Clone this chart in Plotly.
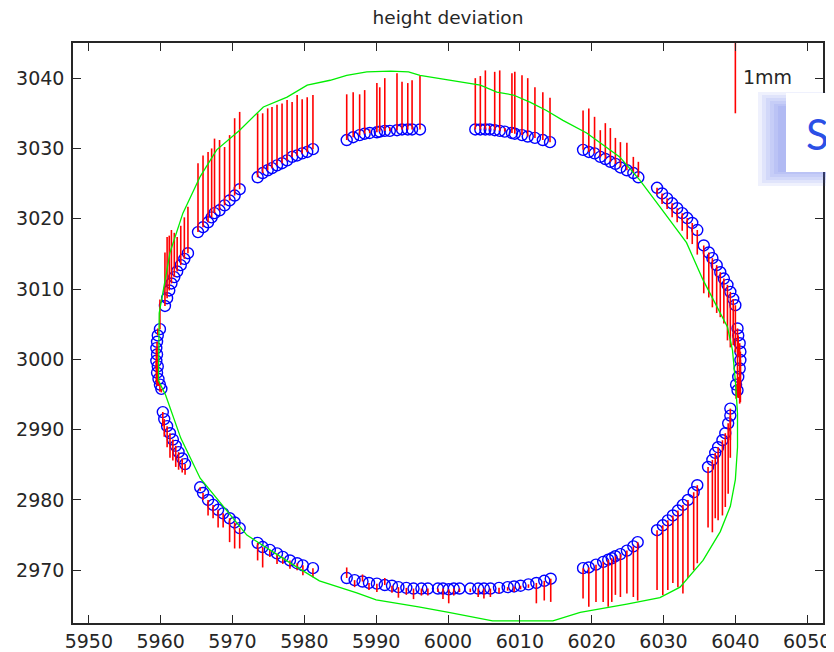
import plotly.graph_objects as go

# ---------------- data ----------------
circle_x = [
    # left, around y=3000
    5959.9, 5959.6, 5959.5, 5959.4, 5959.5, 5959.4, 5959.6, 5959.5, 5959.7, 5959.9, 5960.1,
    # upper-left arc
    5960.6, 5960.9, 5961.2, 5961.5, 5961.9, 5962.3, 5962.8, 5963.3, 5963.8,
    5965.2, 5965.9, 5966.6, 5967.1, 5967.5, 5968.2, 5968.9, 5969.6, 5970.3, 5971.0,
    5973.5, 5974.2, 5974.9, 5975.5, 5976.2, 5976.9, 5977.6, 5978.3, 5979.0, 5979.7, 5980.4, 5981.2,
    5985.9, 5986.8, 5987.7, 5988.4, 5989.1, 5990.1, 5990.5, 5991.2, 5991.9, 5992.9, 5993.6, 5994.4, 5995.0, 5996.1,
    # upper-right arc
    6003.8, 6004.5, 6005.2, 6005.8, 6006.5, 6007.2, 6007.9, 6008.9, 6009.3, 6010.3, 6011.1, 6012.1, 6013.2, 6014.2,
    6018.8, 6019.6, 6020.4, 6021.2, 6021.9, 6022.6, 6023.3, 6024.0, 6024.9, 6025.8, 6026.5,
    6029.1, 6029.8, 6030.5, 6031.2, 6031.9, 6032.6, 6033.3, 6034.0, 6034.7,
    6035.6, 6036.3, 6036.8, 6037.4, 6037.9, 6038.4, 6038.9, 6039.3, 6039.7, 6040.0,
    # right, around y=3000
    6040.3, 6040.4, 6040.6, 6040.7, 6040.7, 6040.6, 6040.4, 6040.1, 6040.3,
    # lower-right arc
    6036.2, 6036.8, 6037.2, 6037.6, 6038.2, 6038.6, 6039.0, 6039.3, 6039.3,
    6029.1, 6029.9, 6030.6, 6031.3, 6032.0, 6032.7, 6033.4, 6034.2, 6034.7,
    6018.8, 6019.6, 6020.6, 6021.6, 6022.3, 6022.8, 6023.3, 6024.0, 6024.9, 6025.8, 6026.4,
    6003.1, 6004.2, 6005.0, 6005.9, 6007.1, 6008.3, 6009.2, 6010.1, 6011.2, 6012.3, 6013.4, 6014.3,
    # bottom middle
    5998.6, 5999.3, 6000.1, 6000.8, 6001.6,
    # lower-left arc
    5985.9, 5987.0, 5988.1, 5989.0, 5990.1, 5991.2, 5992.2, 5993.1, 5994.2, 5995.2, 5996.3, 5997.2,
    5973.5, 5974.2, 5975.2, 5976.2, 5977.0, 5978.0, 5979.0, 5979.8, 5981.2,
    5965.5, 5965.9, 5966.6, 5967.3, 5968.0, 5968.7, 5969.6, 5970.3, 5971.0,
    5960.3, 5960.5, 5960.9, 5961.3, 5961.7, 5962.1, 5962.5, 5963.0, 5963.4,
]

circle_y = [
    3004.3, 3003.4, 3002.5, 3001.6, 3000.7, 2999.8, 2999.0, 2998.1, 2997.2, 2996.4, 2995.8,
    3007.6, 3008.7, 3009.8, 3010.8, 3011.7, 3012.5, 3013.4, 3014.3, 3015.1,
    3018.1, 3018.8, 3019.5, 3020.2, 3020.8, 3021.2, 3021.9, 3022.6, 3023.3, 3024.2,
    3025.9, 3026.5, 3026.9, 3027.2, 3027.6, 3027.9, 3028.3, 3028.8, 3029.0, 3029.3, 3029.5, 3029.9,
    3031.2, 3031.6, 3031.9, 3032.1, 3032.2, 3032.3, 3032.4, 3032.5, 3032.5, 3032.6, 3032.7, 3032.7, 3032.7, 3032.7,
    3032.7, 3032.7, 3032.7, 3032.7, 3032.6, 3032.5, 3032.4, 3032.2, 3032.1, 3031.9, 3031.7, 3031.5, 3031.2, 3030.9,
    3029.8, 3029.5, 3029.3, 3028.8, 3028.5, 3028.1, 3027.8, 3027.3, 3026.9, 3026.5, 3025.9,
    3024.4, 3023.6, 3022.9, 3022.2, 3021.5, 3020.8, 3020.1, 3019.4, 3018.4,
    3016.2, 3015.2, 3014.4, 3013.4, 3012.4, 3011.5, 3010.6, 3009.6, 3008.6, 3007.7,
    3004.4, 3003.4, 3002.3, 3001.1, 2999.9, 2998.7, 2997.5, 2996.4, 2995.6,
    2984.7, 2985.7, 2986.7, 2987.5, 2988.5, 2989.5, 2990.9, 2992.0, 2993.0,
    2975.7, 2976.4, 2977.1, 2977.8, 2978.5, 2979.3, 2980.0, 2981.1, 2982.1,
    2970.3, 2970.4, 2970.8, 2971.2, 2971.5, 2971.7, 2972.0, 2972.3, 2972.8, 2973.4, 2974.0,
    2967.4, 2967.4, 2967.4, 2967.4, 2967.5, 2967.6, 2967.7, 2967.8, 2968.0, 2968.2, 2968.5, 2968.8,
    2967.4, 2967.4, 2967.3, 2967.4, 2967.4,
    2968.9, 2968.6, 2968.4, 2968.2, 2968.1, 2967.9, 2967.8, 2967.6, 2967.5, 2967.4, 2967.4, 2967.4,
    2973.9, 2973.3, 2972.9, 2972.4, 2971.9, 2971.4, 2971.0, 2970.7, 2970.3,
    2981.8, 2981.0, 2980.0, 2979.3, 2978.6, 2978.1, 2977.4, 2976.8, 2976.0,
    2992.5, 2991.5, 2990.5, 2989.5, 2988.6, 2987.7, 2986.8, 2985.9, 2985.1,
]

deviation_mm = [
    0.42, 0.10, -0.20, -0.30, -0.45, -0.30, -0.20, -0.15, -0.10, -0.10, -0.05,
    0.76, 0.87, 0.78, 0.76, 0.63, 0.49, 0.56, 0.59, 0.66,
    0.98, 1.02, 1.00, 0.98, 1.06, 1.00, 0.83, 0.93, 1.10, 1.10,
    0.91, 0.85, 0.88, 0.87, 0.86, 0.85, 0.86, 0.78, 0.86, 0.77, 0.78, 0.77,
    0.65, 0.64, 0.58, 0.62, 0.05, 0.70, 0.63, 0.75, 0.05, 0.81, 0.68, 0.66, 0.70, 0.76,
    0.73, 0.76, 0.84, 0.05, 0.83, 0.86, 0.05, 0.85, 0.88, 0.85, 0.83, 0.72, 0.68, 0.63,
    0.56, 0.62, 0.52, 0.38, 0.51, 0.48, 0.37, 0.36, 0.39, 0.23, 0.22,
    -0.10, -0.15, -0.15, -0.20, -0.20, -0.25, -0.30, -0.30, -0.35,
    -0.68, -0.64, -0.70, -0.68, -0.64, -0.64, -0.79, -0.79, -0.66, -0.67,
    -0.95, -0.30, -0.40, -0.50, -0.60, -0.50, -0.30, -0.20, -0.10,
    -0.86, -1.03, -0.93, -1.04, -1.07, -1.05, -1.00, -0.60, -0.45,
    -0.85, -0.99, -0.99, -0.96, -1.09, -1.26, -1.11, -1.11, -1.11,
    -0.43, -0.56, -0.53, -0.57, -0.67, -0.62, -0.55, -0.61, -0.61, -0.72, -0.83,
    -0.05, -0.12, -0.14, -0.12, -0.08, -0.05, -0.08, -0.05, -0.05, -0.29, -0.28, -0.33,
    -0.05, -0.15, -0.20, -0.10, -0.05,
    0.15, -0.10, 0.10, -0.10, -0.12, 0.10, -0.10, -0.15, -0.10, -0.15, -0.10, -0.10,
    -0.25, -0.29, -0.10, -0.15, -0.10, -0.12, -0.10, -0.14, -0.13,
    -0.05, -0.10, -0.22, -0.19, -0.25, -0.20, -0.34, -0.37, -0.29,
    -0.20, -0.25, -0.30, -0.35, -0.30, -0.30, -0.25, -0.20, -0.15,
]

outline_x = [
    5959.7, 5959.8, 5960.4, 5961.3, 5963.1, 5965.5, 5967.8, 5971.0, 5974.3, 5977.6,
    5980.4, 5983.6, 5985.9, 5988.7, 5992.0, 5994.5, 5996.1, 6002.1, 6004.5, 6006.8,
    6009.1, 6011.4, 6013.7, 6016.0, 6019.3, 6023.9, 6026.7, 6029.5, 6033.2, 6035.5,
    6037.5, 6038.9, 6039.6, 6040.0, 6040.3, 6040.3, 6040.0, 6039.3, 6037.9, 6035.5,
    6032.3, 6029.5, 6024.9, 6018.4, 6014.6, 6006.2, 6000.1, 5995.9, 5990.0, 5987.3,
    5982.1, 5978.4, 5972.0, 5965.5, 5962.8, 5960.7, 5959.7,
]
outline_y = [
    2997.0, 3006.6, 3010.0, 3015.2, 3020.8, 3026.0, 3029.8, 3032.6, 3035.9, 3037.3,
    3039.0, 3039.7, 3040.4, 3040.9, 3041.0, 3040.9, 3040.4, 3039.4, 3039.0, 3038.0,
    3037.6, 3036.6, 3035.4, 3034.0, 3032.2, 3028.8, 3025.5, 3021.7, 3016.6, 3011.3,
    3007.4, 3004.6, 3001.3, 2997.0, 2992.3, 2987.5, 2982.9, 2979.1, 2975.5, 2971.4,
    2967.6, 2966.1, 2965.2, 2964.0, 2962.8, 2962.8, 2964.0, 2964.8, 2965.8, 2966.8,
    2968.5, 2970.8, 2975.0, 2983.1, 2988.8, 2994.9, 2997.0,
]

units_per_mm = 10.0          # plot units per mm of deviation
scale_bar_mm = [1.0]
scale_bar_x = [6040.0]
scale_bar_y0 = [3035.0]
scale_label = "1mm"

x_ticks = [5950, 5960, 5970, 5980, 5990, 6000, 6010, 6020, 6030, 6040, 6050]
y_ticks = [2970, 2980, 2990, 3000, 3010, 3020, 3030, 3040]
x_range = [5947.8, 6052.2]
y_range = [2962.5, 3045.0]

# ---------------- build figure ----------------
# The page body has an 8px margin, so the figure is laid out 8px in from the top-left.
OFF = 8
W, H = 834 - OFF, 652 - OFF
ML, MT = 73 - OFF, 43 - OFF
MR = W - (823 - OFF)
MB = H - (623 - OFF)
PW, PH = W - ML - MR, H - MT - MB

def px(x):
    return (x - OFF - ML) / PW

def py(y):
    return (H - MB - (y - OFF)) / PH

seg_x, seg_y = [], []
for x, y, d in zip(circle_x, circle_y, deviation_mm):
    seg_x += [x, x, None]
    seg_y += [y, y + d * units_per_mm, None]

bar_x, bar_y = [], []
for x, y0, mm in zip(scale_bar_x, scale_bar_y0, scale_bar_mm):
    bar_x += [x, x, None]
    bar_y += [y0, y0 + mm * units_per_mm, None]

fig = go.Figure()
fig.add_trace(go.Scatter(
    x=circle_x, y=circle_y, mode="markers",
    marker=dict(symbol="circle-open", size=11, color="#0000ff", line=dict(width=1.4, color="#0000ff")),
    hoverinfo="skip", showlegend=False))
fig.add_trace(go.Scatter(
    x=seg_x, y=seg_y, mode="lines", line=dict(color="#ff0000", width=1.6),
    hoverinfo="skip", showlegend=False))
fig.add_trace(go.Scatter(
    x=outline_x, y=outline_y, mode="lines", line=dict(color="#00ee00", width=1.3),
    hoverinfo="skip", showlegend=False))
fig.add_trace(go.Scatter(
    x=bar_x, y=bar_y, mode="lines", line=dict(color="#ff0000", width=1.6),
    hoverinfo="skip", showlegend=False))

font_main = dict(family="DejaVu Sans", size=19, color="#262626")

axis_common = dict(
    showgrid=False, zeroline=False, showline=True, linecolor="#262626", linewidth=1.5,
    mirror="ticks", ticks="inside", ticklen=8, tickwidth=1.3, tickcolor="#262626",
    tickfont=font_main, automargin=False, fixedrange=True,
)

fig.update_layout(
    width=W, height=H,
    margin=dict(l=ML, r=MR, t=MT, b=MB, pad=0),
    paper_bgcolor="white", plot_bgcolor="white",
    title=dict(text="height deviation", x=0.5, xref="paper", xanchor="center",
               y=1 - (18 - OFF) / H, yref="container", yanchor="middle",
               font=dict(family="DejaVu Sans", size=18.5, color="#262626")),
    xaxis=dict(range=x_range, tickvals=x_ticks, ticktext=[str(v) for v in x_ticks],
               ticklabelstandoff=0, **axis_common),
    yaxis=dict(range=y_range, tickvals=y_ticks, ticktext=[str(v) for v in y_ticks],
               ticklabelstandoff=3, **axis_common),
)

fig.add_annotation(x=scale_bar_x[0] + 0.8, y=3040.1, xref="x", yref="y",
                   text=scale_label, showarrow=False, xanchor="left", yanchor="middle",
                   font=font_main)

# slide overlay box with blurred blue shadow (partly outside the figure)
shadow_rects = [(758, 92, 850, 186), (762, 95, 850, 183), (766, 98, 850, 180),
                (770, 101, 850, 177), (774, 104, 850, 174), (778, 106, 850, 172)]
for (x0, y0, x1, y1) in shadow_rects:
    fig.add_shape(type="rect", xref="paper", yref="paper",
                  x0=px(x0), x1=px(x1), y0=py(y1), y1=py(y0),
                  fillcolor="rgba(80,100,230,0.09)", line=dict(width=0), layer="above")
fig.add_shape(type="rect", xref="paper", yref="paper",
              x0=px(786), x1=px(850), y0=py(172), y1=py(93),
              fillcolor="white", line=dict(width=0), layer="above")
fig.add_annotation(x=px(804), y=py(134), xref="paper", yref="paper",
                   text="Sl", showarrow=False, xanchor="left", yanchor="middle",
                   font=dict(family="Lato", size=42, color="#2b50e6"))

fig.write_html("out.html")
